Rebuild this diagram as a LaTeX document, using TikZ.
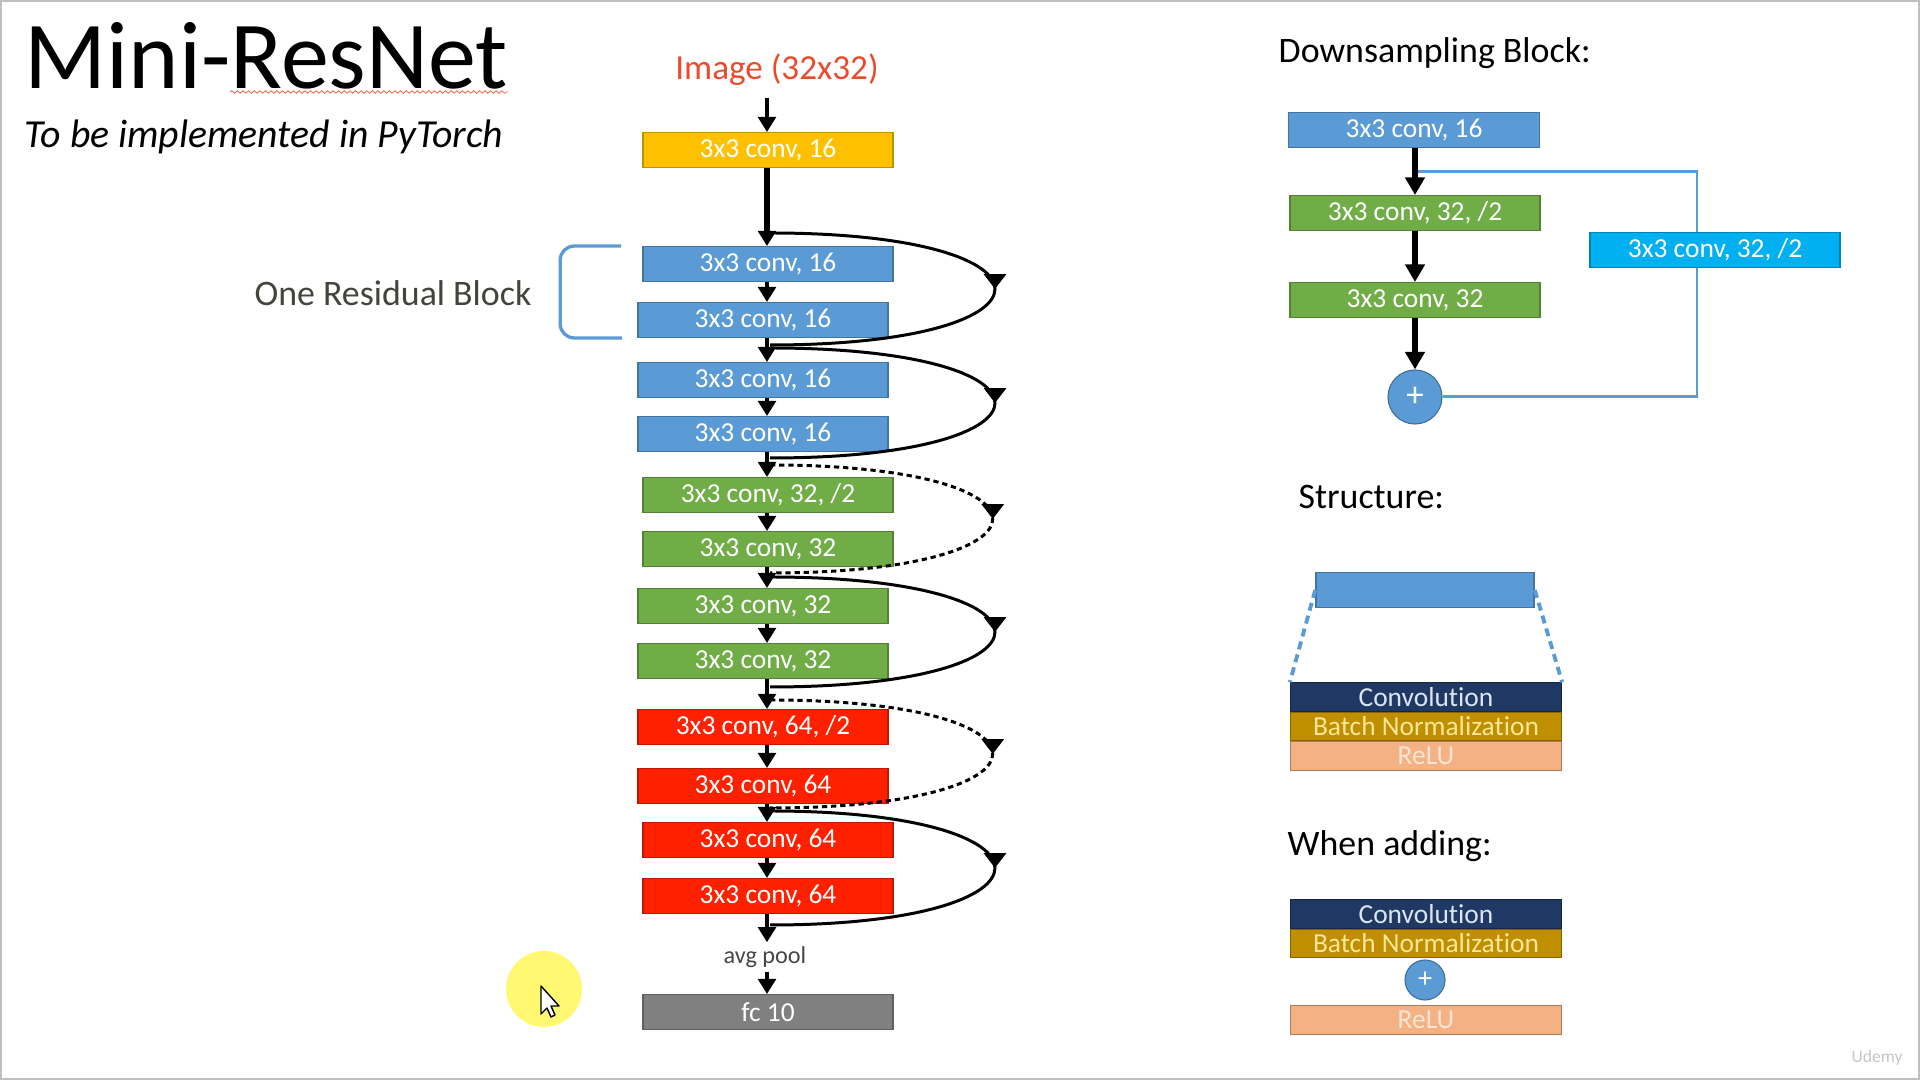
\documentclass[tikz,border=0pt]{standalone}
\usepackage{fontspec}
\setmainfont[Ligatures={NoCommon,NoContextual}]{Carlito}
\usetikzlibrary{positioning,arrows.meta,decorations.markings,decorations.pathmorphing}
\definecolor{convblue}{RGB}{91,155,213}
\definecolor{convgreen}{RGB}{112,173,71}
\definecolor{convred}{RGB}{255,32,0}
\definecolor{convorange}{RGB}{255,192,0}
\definecolor{convgray}{RGB}{128,128,128}
\definecolor{shortcut}{RGB}{0,176,240}
\definecolor{navy}{RGB}{31,56,100}
\definecolor{bngold}{RGB}{191,143,0}
\definecolor{relupeach}{RGB}{244,177,131}
\definecolor{convtext}{RGB}{220,230,242}
\definecolor{bntext}{RGB}{255,230,153}
\definecolor{relutext}{RGB}{252,228,214}
\definecolor{imgred}{RGB}{235,75,45}
\definecolor{labelgray}{RGB}{68,68,60}
\definecolor{pooltext}{RGB}{70,70,70}

\newcommand{\boxfont}{\fontsize{7.8}{9}\selectfont}
\newcommand{\headfont}{\fontsize{10.2}{12}\selectfont}

\tikzset{
	convlayer/.style={draw=#1!75!black, line width=0.4pt, fill=#1, text=white,
		font=\boxfont, minimum width=2.5cm, minimum height=0.345cm, inner sep=0pt},
	stackbar/.style={draw=#1!70!black, line width=0.3pt, fill=#1, font=\boxfont,
		minimum width=2.71cm, minimum height=0.285cm, inner sep=0pt},
	flow/.style={line width=1.1pt, -{Triangle[width=5pt,length=4.3pt]}},
	bigflow/.style={line width=1.5pt, -{Triangle[width=5.4pt,length=5pt]}},
	skipline/.style={line width=0.85pt, postaction={decorate},
		decoration={markings, mark=at position 0.5 with {\arrow{Triangle[width=6.2pt,length=4.2pt]}}}},
	resline/.style={draw=convblue, line width=0.85pt},
	zoomline/.style={draw=convblue, line width=1.1pt, dash pattern=on 2.3pt off 1.5pt},
	addnode/.style={circle, fill=convblue, draw=convblue!70!black, line width=0.3pt,
		text=white, inner sep=0pt},
	heading/.style={anchor=west, font=\headfont, inner sep=0pt}
}

\begin{document}
\begin{tikzpicture}[x=0.01cm, y=-0.01cm]
	\useasboundingbox (0,0) rectangle (1920,1080);
	\draw[gray!50, line width=0.5pt] (1,1) rectangle (1919,1079);

	% title
	\node[anchor=base west, inner sep=0pt, font=\fontsize{27.3}{30}\selectfont] (title) at (24,89) {Mini-ResNet};
	\draw[imgred!80, line width=0.25pt, decorate, decoration={snake, amplitude=0.35pt, segment length=1.6pt}] (230,92) -- (508,92);
	\node[anchor=base west, inner sep=0pt, font=\fontsize{11.3}{13}\selectfont\itshape] (subtitle) at (24,148) {To be implemented in PyTorch};

	% main column
	\coordinate (axis) at (767,0);
	\node[text=imgred, font=\fontsize{10}{12}\selectfont] (img) at (777,70) {Image (32x32)};
	\node[convlayer=convorange] (c0) at (768,150) {3x3 conv, 16};
	\node[convlayer=convblue] (b1) at (768,264) {3x3 conv, 16};
	\node[convlayer=convblue] (b2) at (763,320) {3x3 conv, 16};
	\node[convlayer=convblue] (b3) at (763,380) {3x3 conv, 16};
	\node[convlayer=convblue] (b4) at (763,434) {3x3 conv, 16};
	\node[convlayer=convgreen] (b5) at (768,495) {3x3 conv, 32, /2};
	\node[convlayer=convgreen] (b6) at (768,549) {3x3 conv, 32};
	\node[convlayer=convgreen] (b7) at (763,606) {3x3 conv, 32};
	\node[convlayer=convgreen] (b8) at (763,661) {3x3 conv, 32};
	\node[convlayer=convred] (b9) at (763,727) {3x3 conv, 64, /2};
	\node[convlayer=convred] (b10) at (763,786) {3x3 conv, 64};
	\node[convlayer=convred] (b11) at (768,840) {3x3 conv, 64};
	\node[convlayer=convred] (b12) at (768,896) {3x3 conv, 64};
	\node[text=pooltext, font=\fontsize{6.9}{8}\selectfont, inner sep=1pt] (pool) at (765,957) {avg pool};
	\node[convlayer=convgray] (fc) at (768,1012) {fc 10};

	\draw[flow] (img.south -| axis) -- (c0.north -| axis);
	\draw[flow, line width=1.6pt] (c0.south -| axis) -- (b1.north -| axis);
	\draw[flow] (b1.south -| axis) -- (b2.north -| axis);
	\draw[flow] (b2.south -| axis) -- (b3.north -| axis);
	\draw[flow] (b3.south -| axis) -- (b4.north -| axis);
	\draw[flow] (b4.south -| axis) -- (b5.north -| axis);
	\draw[flow] (b5.south -| axis) -- (b6.north -| axis);
	\draw[flow] (b6.south -| axis) -- (b7.north -| axis);
	\draw[flow] (b7.south -| axis) -- (b8.north -| axis);
	\draw[flow] (b8.south -| axis) -- (b9.north -| axis);
	\draw[flow] (b9.south -| axis) -- (b10.north -| axis);
	\draw[flow] (b10.south -| axis) -- (b11.north -| axis);
	\draw[flow] (b11.south -| axis) -- (b12.north -| axis);
	\draw[flow] (b12.south -| axis) -- (pool.north -| axis);
	\draw[flow] (pool.south -| axis) -- (fc.north -| axis);

	% shortcut connections
	\coordinate (s1) at (770,233);  \coordinate (e1) at (770,345);
	\coordinate (s2) at (770,348);  \coordinate (e2) at (770,458);
	\coordinate (s3) at (770,465);  \coordinate (e3) at (770,573);
	\coordinate (s4) at (770,577);  \coordinate (e4) at (770,687);
	\coordinate (s5) at (770,700);  \coordinate (e5) at (770,808);
	\coordinate (s6) at (770,811);  \coordinate (e6) at (770,925);
	\draw[skipline] (s1) .. controls +(300,0) and +(300,0) .. (e1);
	\draw[skipline] (s2) .. controls +(300,0) and +(300,0) .. (e2);
	\draw[skipline, dash pattern=on 1.5pt off 1.1pt] (s3) .. controls +(297,0) and +(297,0) .. (e3);
	\draw[skipline] (s4) .. controls +(300,0) and +(300,0) .. (e4);
	\draw[skipline, dash pattern=on 1.5pt off 1.1pt] (s5) .. controls +(297,0) and +(297,0) .. (e5);
	\draw[skipline] (s6) .. controls +(300,0) and +(300,0) .. (e6);

	% one residual block
	\node[text=labelgray, font=\headfont] (reslabel) at (393,293) {One Residual Block};
	\draw[convblue, line width=0.95pt, rounded corners=4pt]
		([xshift=-0.21cm]b1.north west) -- ++(-61,0) |- ([xshift=-0.15cm]b2.south west);

	% downsampling block
	\node[heading] (dtitle) at (1278,53) {Downsampling Block:};
	\node[convlayer=convblue, minimum width=2.51cm] (d0) at (1414,130) {3x3 conv, 16};
	\node[convlayer=convgreen] (d1) at (1415,213) {3x3 conv, 32, /2};
	\node[convlayer=convgreen] (d2) at (1415,300) {3x3 conv, 32};
	\node[addnode, minimum size=0.54cm, font=\fontsize{10}{12}\selectfont] (dadd) at (1415,397) {+};
	\node[convlayer=shortcut] (dproj) at (1715,250) {3x3 conv, 32, /2};
	\coordinate (dsplit) at (1415,172);
	\draw[resline] (dsplit) -| ([xshift=-0.18cm]dproj.north);
	\draw[resline] ([xshift=-0.18cm]dproj.south) |- (dadd.east);
	\draw[bigflow] (d0.south -| dadd) -- (d1.north -| dadd);
	\draw[bigflow] (d1.south -| dadd) -- (d2.north -| dadd);
	\draw[bigflow] (d2.south -| dadd) -- (dadd.north);

	% structure
	\node[heading] (stitle) at (1298,497) {Structure:};
	\node[convlayer=convblue, minimum width=2.18cm, minimum height=0.35cm] (sblock) at (1425,590) {};
	\node[stackbar=navy, text=convtext] (sconv) at (1426,697) {Convolution};
	\node[stackbar=bngold, text=bntext, below=0pt of sconv] (sbn) {Batch Normalization};
	\node[stackbar=relupeach, text=relutext, below=0pt of sbn] (srelu) {ReLU};
	\draw[zoomline] (sblock.west) -- (sconv.north west);
	\draw[zoomline] (sblock.east) -- (sconv.north east);

	% when adding
	\node[heading] (atitle) at (1287,846) {When adding:};
	\node[stackbar=navy, text=convtext] (aconv) at (1426,914) {Convolution};
	\node[stackbar=bngold, text=bntext, below=0pt of aconv] (abn) {Batch Normalization};
	\node[addnode, minimum size=0.4cm, font=\fontsize{8}{10}\selectfont] (aadd) at (1425,980) {+};
	\node[stackbar=relupeach, text=relutext] (arelu) at (1426,1020) {ReLU};

	% cursor highlight
	\fill[yellow!75!white, opacity=0.75] (544,989) circle (0.38cm);
	\draw[fill=white, line width=0.4pt, line join=round] (541,986) -- (541,1014) -- (547,1008) -- (551,1017) -- (555,1015) -- (551,1006) -- (559,1006) -- cycle;

	\node[gray!45, font=\fontsize{5}{6}\selectfont, anchor=east] (mark) at (1915,1058) {Udemy};
\end{tikzpicture}
\end{document}
